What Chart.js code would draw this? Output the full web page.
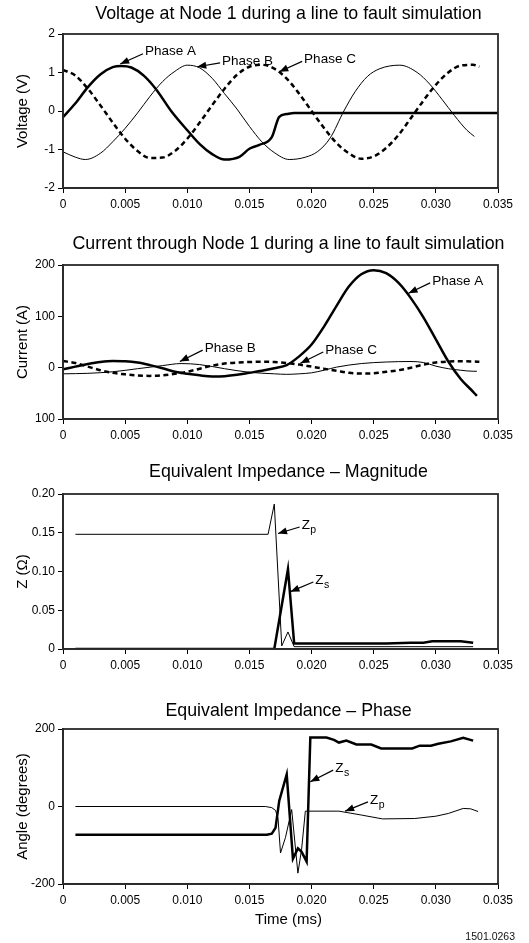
<!DOCTYPE html>
<html>
<head>
<meta charset="utf-8">
<script src="https://cdn.jsdelivr.net/npm/chart.js@4.4.0/dist/chart.umd.min.js"></script>
<style>
  html, body { margin: 0; padding: 0; background: #fff; }
  body { width: 529px; height: 943px; overflow: hidden; position: relative; }
  canvas.panel { position: absolute; left: 0; }
  #figId {
    position: absolute; right: 14px; top: 930px;
    font: 10.5px "Liberation Sans", Arial, sans-serif; color: #111;
  }
</style>
</head>
<body>
<canvas id="voltageChart" class="panel"></canvas>
<canvas id="currentChart" class="panel"></canvas>
<canvas id="magChart" class="panel"></canvas>
<canvas id="phaseChart" class="panel"></canvas>
<div id="figId">1501.0263</div>

<script>
const FONT = "'Liberation Sans', Arial, Helvetica, sans-serif";
Chart.defaults.font.family = FONT;
Chart.defaults.color = "#000";

// ===== SHARED X AXIS =====
const xTicks      = [0, 0.005, 0.010, 0.015, 0.020, 0.025, 0.030, 0.035];
const xTickLabels = ["0", "0.005", "0.010", "0.015", "0.020", "0.025", "0.030", "0.035"];

// ===== CHART 1: VOLTAGE =====
const voltTicks      = [-2, -1, 0, 1, 2];
const voltTickLabels = ["-2", "-1", "0", "1", "2"];

const voltTimeA = [0, 0.001, 0.002, 0.003, 0.004, 0.0047, 0.0055, 0.0065, 0.0075, 0.0087, 0.010, 0.011,
                   0.012, 0.013, 0.0142, 0.0150, 0.0158, 0.0168, 0.0174, 0.0180, 0.0186, 0.0250, 0.035];
const voltPhaseA = [-0.16, 0.2, 0.62, 0.95, 1.14, 1.17, 1.13, 0.92, 0.56, 0.0, -0.5, -0.86,
                    -1.12, -1.26, -1.19, -0.98, -0.88, -0.68, -0.15, -0.08, -0.05, -0.05, -0.05];

const voltTimeB = [0, 0.001, 0.0018, 0.003, 0.004, 0.005, 0.006, 0.007, 0.008, 0.009, 0.0100, 0.011,
                   0.012, 0.013, 0.014, 0.015, 0.016, 0.017, 0.0182, 0.0195, 0.0205, 0.0215, 0.0226,
                   0.0235, 0.0245, 0.0255, 0.0271, 0.0285, 0.0295, 0.0305, 0.0315, 0.0325, 0.0331];
const voltPhaseB = [-1.06, -1.2, -1.26, -1.1, -0.8, -0.45, -0.05, 0.38, 0.76, 1.03, 1.19, 1.12,
                    0.85, 0.45, 0.05, -0.4, -0.8, -1.08, -1.26, -1.2, -1.05, -0.7, 0.0,
                    0.5, 0.9, 1.1, 1.19, 1.0, 0.7, 0.3, -0.12, -0.5, -0.66];

const voltTimeC = [0, 0.001, 0.002, 0.003, 0.004, 0.005, 0.006, 0.007, 0.008, 0.009, 0.010, 0.011,
                   0.012, 0.013, 0.014, 0.015, 0.016, 0.017, 0.018, 0.019, 0.020, 0.021, 0.022, 0.023,
                   0.024, 0.025, 0.026, 0.027, 0.028, 0.029, 0.030, 0.031, 0.032, 0.033, 0.0335];
const voltPhaseC = [1.07, 0.92, 0.58, 0.15, -0.3, -0.72, -1.04, -1.22, -1.21, -1.04, -0.72, -0.3,
                    0.15, 0.58, 0.94, 1.15, 1.2, 1.1, 0.84, 0.45, 0.0, -0.44, -0.83, -1.1,
                    -1.24, -1.18, -0.96, -0.62, -0.18, 0.27, 0.68, 1.0, 1.18, 1.2, 1.15];

// ===== CHART 2: CURRENT =====
const currTicks      = [-100, 0, 100, 200];
const currTickLabels = ["100", "0", "100", "200"];

const currTimeA = [0, 0.001, 0.002, 0.003, 0.004, 0.005, 0.006, 0.007, 0.008, 0.009, 0.010, 0.011,
                   0.012, 0.013, 0.014, 0.015, 0.016, 0.017, 0.018, 0.019, 0.020, 0.021, 0.022, 0.023,
                   0.024, 0.025, 0.026, 0.027, 0.028, 0.029, 0.030, 0.031, 0.032, 0.033, 0.0333];
const currPhaseA = [-3, 2, 7, 11, 13, 12.5, 10, 5, -1, -8, -12, -15,
                    -17, -16.5, -14, -10, -6, -1, 5, 22, 45, 80, 120, 158,
                    182, 190, 184, 165, 135, 98, 55, 12, -22, -47, -55];

const currTimeB = [0, 0.002, 0.004, 0.006, 0.008, 0.0095, 0.011, 0.013, 0.015, 0.017, 0.018, 0.019,
                   0.020, 0.021, 0.022, 0.024, 0.026, 0.028, 0.029, 0.030, 0.031, 0.032, 0.033, 0.0333];
const currPhaseB = [-12, -11, -8, -2, 4, 8, 6, -2, -9, -12, -13, -12,
                    -10, -5, 1, 8, 11, 12, 10, 3, -2, -5, -7, -7];

const currTimeC = [0, 0.001, 0.002, 0.003, 0.004, 0.005, 0.006, 0.007, 0.008, 0.009, 0.010, 0.011,
                   0.012, 0.013, 0.014, 0.015, 0.016, 0.017, 0.018, 0.019, 0.020, 0.021, 0.022, 0.023,
                   0.024, 0.025, 0.026, 0.027, 0.028, 0.029, 0.030, 0.031, 0.032, 0.033, 0.0335];
const currPhaseC = [13, 9, 2, -5, -10, -13, -15, -16, -15, -12, -8, -2,
                    4, 8, 10, 11, 11.5, 11, 9, 6, 2, -2, -6, -10,
                    -11.5, -11, -8, -5, 0, 6, 10, 12, 12.5, 12, 11.5];

// ===== CHART 3: IMPEDANCE MAGNITUDE =====
const magTicks      = [0, 0.05, 0.10, 0.15, 0.20];
const magTickLabels = ["0", "0.05", "0.10", "0.15", "0.20"];

const magTimeP = [0.001, 0.0165, 0.0170, 0.0176, 0.0181, 0.0186, 0.033];
const magZp    = [0.148, 0.148, 0.187, 0.004, 0.022, 0.003, 0.003];

const magTimeS = [0.001, 0.0170, 0.0181, 0.0186, 0.026, 0.028, 0.029, 0.0297, 0.032, 0.033];
const magZs    = [0, 0, 0.103, 0.007, 0.007, 0.008, 0.008, 0.010, 0.010, 0.008];

// ===== CHART 4: IMPEDANCE PHASE =====
const angTicks      = [-200, 0, 200];
const angTickLabels = ["-200", "0", "200"];

const angTimeP = [0.001, 0.0163, 0.0168, 0.0171, 0.0173, 0.0175, 0.0179, 0.0184, 0.0189, 0.0192,
                  0.0195, 0.0222, 0.0240, 0.0257, 0.0283, 0.0300, 0.0310, 0.0322, 0.0328, 0.0334];
const angZp    = [0, 0, -3, -10, -30, -120, -80, -8, -172, -110,
                  -12, -12, -22, -32, -31, -25, -18, -5, -6, -13];

const angTimeS = [0.001, 0.0164, 0.0168, 0.0171, 0.0174, 0.0180, 0.0185, 0.0189, 0.0192, 0.0196,
                  0.0199, 0.0212, 0.0218, 0.0222, 0.0228, 0.0236, 0.0248, 0.0256, 0.0281, 0.0287,
                  0.0296, 0.0302, 0.0312, 0.0322, 0.0330];
const angZs    = [-73, -73, -70, -55, 15, 83, -135, -108, -117, -142,
                  178, 178, 172, 165, 170, 160, 160, 150, 150, 157,
                  157, 162, 168, 177, 170];

// ===== CALLOUTS (tip and label anchor in data units) =====
const voltNotes = [
  { text: "Phase A", tip: [0.0046, 1.22], at: [0.0066, 1.54] },
  { text: "Phase B", tip: [0.0108, 1.15], at: [0.0128, 1.30] },
  { text: "Phase C", tip: [0.0174, 1.02], at: [0.0194, 1.34] }
];
const currNotes = [
  { text: "Phase A", tip: [0.0278, 145], at: [0.0297, 169] },
  { text: "Phase B", tip: [0.0094, 12],  at: [0.0114, 38] },
  { text: "Phase C", tip: [0.0191, 8.5], at: [0.0211, 34.5] }
];
const magNotes = [
  { text: "Z", sub: "p", tip: [0.0173, 0.149], at: [0.0192, 0.160] },
  { text: "Z", sub: "s", tip: [0.0183, 0.074], at: [0.0203, 0.089] }
];
const angNotes = [
  { text: "Z", sub: "s", tip: [0.0199, 64],  at: [0.0219, 99] },
  { text: "Z", sub: "p", tip: [0.0227, -12], at: [0.0247, 17] }
];

function toPoints(xs, ys) {
  return xs.map((x, i) => ({ x: x, y: ys[i] }));
}

// ===== TITLE, FRAME + ARROW CALLOUTS =====
const notesPlugin = {
  id: "notes",
  afterDatasetsDraw(chart, args, opts) {
    const ctx = chart.ctx;
    const a = chart.chartArea;
    const sx = chart.scales.x, sy = chart.scales.y;
    ctx.save();
    ctx.strokeStyle = "#2a2a2a";
    ctx.lineWidth = 1.8;
    ctx.strokeRect(a.left, a.top, a.right - a.left, a.bottom - a.top);

    ctx.fillStyle = "#000";
    ctx.strokeStyle = "#000";

    // panel title, centred on the canvas like the original figure
    ctx.font = "17.8px " + FONT;
    ctx.textAlign = "center";
    ctx.textBaseline = "middle";
    ctx.fillText(opts.title, chart.width / 2, opts.titleY);

    (opts.items || []).forEach(n => {
      const tx = sx.getPixelForValue(n.tip[0]), ty = sy.getPixelForValue(n.tip[1]);
      const lx = sx.getPixelForValue(n.at[0]),  ly = sy.getPixelForValue(n.at[1]);
      const bx = lx - 2, by = ly + 2;
      ctx.lineWidth = 1.2;
      ctx.beginPath();
      ctx.moveTo(bx, by);
      ctx.lineTo(tx, ty);
      ctx.stroke();
      const ang = Math.atan2(ty - by, tx - bx);
      const hl = 9, hw = 3.5;
      ctx.beginPath();
      ctx.moveTo(tx, ty);
      ctx.lineTo(tx - hl * Math.cos(ang) + hw * Math.sin(ang), ty - hl * Math.sin(ang) - hw * Math.cos(ang));
      ctx.lineTo(tx - hl * Math.cos(ang) - hw * Math.sin(ang), ty - hl * Math.sin(ang) + hw * Math.cos(ang));
      ctx.closePath();
      ctx.fill();

      ctx.font = "13.5px " + FONT;
      ctx.textAlign = "left";
      ctx.textBaseline = "middle";
      ctx.fillText(n.text, lx, ly);
      if (n.sub) {
        const w = ctx.measureText(n.text).width;
        ctx.font = "10.5px " + FONT;
        ctx.fillText(n.sub, lx + w + 0.5, ly + 5);
      }
    });

    if (opts.xTitle) {
      ctx.font = "15px " + FONT;
      ctx.textAlign = "center";
      ctx.textBaseline = "middle";
      ctx.fillText(opts.xTitle, chart.width / 2, a.bottom + 36);
    }
    ctx.restore();
  }
};

function lineSet(points, style) {
  return Object.assign({
    data: points,
    borderColor: "#000",
    borderWidth: 1,
    pointRadius: 0,
    fill: false,
    tension: 0
  }, style);
}

function makePanel(id, opt) {
  const canvas = document.getElementById(id);
  canvas.width = 577;
  canvas.height = opt.height;
  canvas.style.top = opt.top + "px";

  return new Chart(canvas.getContext("2d"), {
    type: "line",
    data: { datasets: opt.datasets },
    plugins: [notesPlugin],
    options: {
      responsive: false,
      animation: false,
      layout: { padding: { left: 0, right: 79, top: 34, bottom: 0 } },
      plugins: {
        legend: { display: false },
        tooltip: { enabled: false },
        title: { display: false },
        notes: { items: opt.notes, xTitle: opt.xTitle, title: opt.title, titleY: opt.titleY }
      },
      scales: {
        x: {
          type: "linear",
          min: 0,
          max: 0.035,
          afterBuildTicks: s => { s.ticks = xTicks.map(v => ({ value: v })); },
          afterFit: s => { s.height = opt.xHeight; },
          grid: { drawOnChartArea: false, drawTicks: true, tickLength: 5, tickColor: "#000", color: "#000" },
          border: { display: true, color: "#2a2a2a", width: 1.8 },
          ticks: {
            padding: 4, autoSkip: false, maxRotation: 0, color: "#000",
            font: { size: 12 },
            callback: (v, i) => xTickLabels[i]
          }
        },
        y: {
          type: "linear",
          min: opt.yTicks[0],
          max: opt.yTicks[opt.yTicks.length - 1],
          afterBuildTicks: s => { s.ticks = opt.yTicks.map(v => ({ value: v })); },
          afterFit: s => { s.width = 63; },
          grid: { drawOnChartArea: false, drawTicks: true, tickLength: 5, tickColor: "#000", color: "#000" },
          border: { display: true, color: "#2a2a2a", width: 1.8 },
          ticks: {
            padding: 3, autoSkip: false, color: "#000",
            font: { size: 12 },
            callback: (v, i) => opt.yLabels[i]
          },
          title: {
            display: true,
            text: opt.yTitle,
            color: "#000",
            font: { size: 15 },
            padding: { top: 14, bottom: 0 }
          }
        }
      }
    }
  });
}

const thick  = { borderWidth: 2.5 };
const thin   = { borderWidth: 1 };
const dashed = { borderWidth: 2.5, borderDash: [5, 3.5] };
const smooth = { cubicInterpolationMode: "monotone" };

makePanel("voltageChart", {
  top: 0, height: 218, xHeight: 30, titleY: 14.5,
  title: "Voltage at Node 1 during a line to fault simulation",
  yTitle: "Voltage (V)", yTicks: voltTicks, yLabels: voltTickLabels,
  notes: voltNotes,
  datasets: [
    lineSet(toPoints(voltTimeB, voltPhaseB), Object.assign({}, thin, smooth)),
    lineSet(toPoints(voltTimeC, voltPhaseC), Object.assign({}, dashed, smooth)),
    lineSet(toPoints(voltTimeA, voltPhaseA), Object.assign({}, thick, smooth))
  ]
});

makePanel("currentChart", {
  top: 231, height: 218, xHeight: 30, titleY: 13,
  title: "Current through Node 1 during a line to fault simulation",
  yTitle: "Current (A)", yTicks: currTicks, yLabels: currTickLabels,
  notes: currNotes,
  datasets: [
    lineSet(toPoints(currTimeB, currPhaseB), Object.assign({}, thin, smooth)),
    lineSet(toPoints(currTimeC, currPhaseC), Object.assign({}, dashed, smooth)),
    lineSet(toPoints(currTimeA, currPhaseA), Object.assign({}, thick, smooth))
  ]
});

makePanel("magChart", {
  top: 460, height: 219, xHeight: 30, titleY: 12.5,
  title: "Equivalent Impedance \u2013 Magnitude",
  yTitle: "Z (\u03A9)", yTicks: magTicks, yLabels: magTickLabels,
  notes: magNotes,
  datasets: [
    lineSet(toPoints(magTimeP, magZp), thin),
    lineSet(toPoints(magTimeS, magZs), thick)
  ]
});

makePanel("phaseChart", {
  top: 695, height: 238, xHeight: 49, titleY: 16.5,
  title: "Equivalent Impedance \u2013 Phase",
  yTitle: "Angle (degrees)", yTicks: angTicks, yLabels: angTickLabels,
  notes: angNotes, xTitle: "Time (ms)",
  datasets: [
    lineSet(toPoints(angTimeP, angZp), thin),
    lineSet(toPoints(angTimeS, angZs), thick)
  ]
});
</script>
</body>
</html>
